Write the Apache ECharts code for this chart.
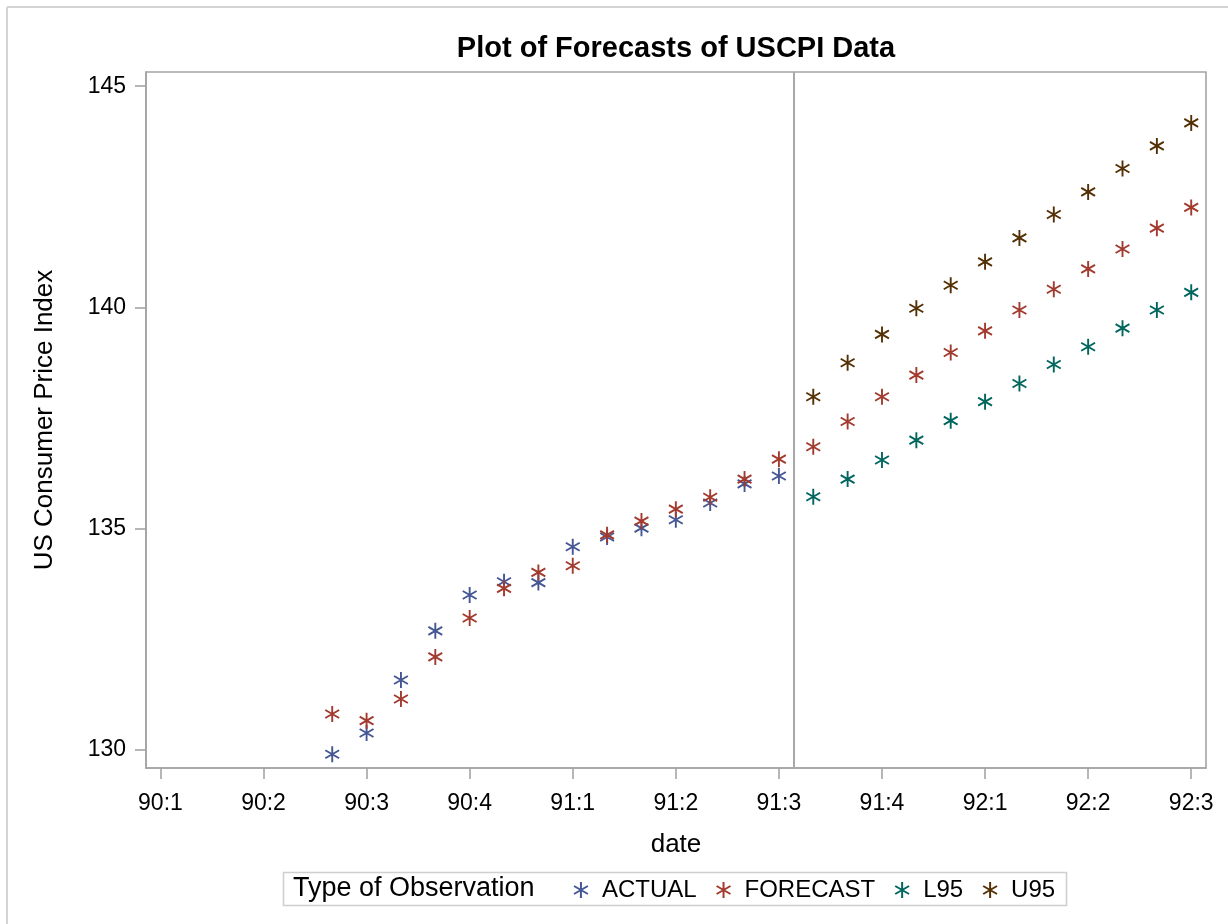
<!DOCTYPE html>
<html>
<head>
<meta charset="utf-8">
<title>Plot of Forecasts of USCPI Data</title>
<script src="https://cdn.jsdelivr.net/npm/echarts@6/dist/echarts.min.js"></script>
<style>
  html, body { margin: 0; padding: 0; background: #ffffff; }
  #chart { width: 1228px; height: 924px; }
</style>
</head>
<body>
<div id="chart"></div>
<script>
// Months counted from January 1990 (0) ; quarter ticks every 3 months
const xTickValues = [0, 3, 6, 9, 12, 15, 18, 21, 24, 27, 30];
const xTickLabels = ['90:1', '90:2', '90:3', '90:4', '91:1', '91:2', '91:3', '91:4', '92:1', '92:2', '92:3'];
const yTickValues = [130, 135, 140, 145];

// Observed CPI, June 1990 - July 1991
const actualMonths = [5, 6, 7, 8, 9, 10, 11, 12, 13, 14, 15, 16, 17, 18];
const actualValues = [129.90, 130.38, 131.58, 132.69, 133.50, 133.80, 133.78, 134.59, 134.81, 135.01, 135.20, 135.58, 136.01, 136.19];

// One-step and multi-step forecasts, June 1990 - July 1992
const forecastMonths = [5, 6, 7, 8, 9, 10, 11, 12, 13, 14, 15, 16, 17, 18, 19, 20, 21, 22, 23, 24, 25, 26, 27, 28, 29, 30];
const forecastValues = [130.81, 130.66, 131.15, 132.10, 132.98, 133.65, 134.01, 134.16, 134.86, 135.17, 135.44, 135.71, 136.12, 136.57,
                        136.85, 137.42, 137.98, 138.47, 138.98, 139.47, 139.94, 140.41, 140.87, 141.32, 141.79, 142.26];

// 95% confidence limits, August 1991 - July 1992
const limitMonths = [19, 20, 21, 22, 23, 24, 25, 26, 27, 28, 29, 30];
const l95Values = [135.72, 136.12, 136.55, 137.00, 137.44, 137.87, 138.28, 138.71, 139.11, 139.53, 139.94, 140.34];
const u95Values = [137.98, 138.75, 139.39, 139.98, 140.50, 141.03, 141.57, 142.10, 142.61, 143.14, 143.65, 144.17];

// Start of the forecast horizon (mid-July 1991)
const forecastStart = 18.42;

const FONT = '"Liberation Sans", Arial, Helvetica, sans-serif';
const STAR = 'path://M0,-10L0,10M-8.66,-5L8.66,5M-8.66,5L8.66,-5';
const AXIS_GRAY = '#a4a4a4';

function pairs(xs, ys) { return xs.map((x, i) => [x, ys[i]]); }

function starSeries(name, color, data, extra) {
  return Object.assign({
    name: name,
    type: 'scatter',
    data: data,
    symbol: STAR,
    symbolSize: 16,
    symbolKeepAspect: true,
    itemStyle: { color: color, borderColor: color, borderWidth: 1.9, opacity: 1 },
    emphasis: { disabled: true }
  }, extra || {});
}

const chart = echarts.init(document.getElementById('chart'), null, { renderer: 'canvas' });

chart.setOption({
  backgroundColor: '#ffffff',
  animation: false,
  title: {
    text: 'Plot of Forecasts of USCPI Data',
    left: 671,
    top: 29,
    textAlign: 'center',
    textStyle: { fontFamily: FONT, fontSize: 29, fontWeight: 'bold', color: '#000000' }
  },
  grid: {
    left: 146, right: 22, top: 72, bottom: 156,
    show: true, borderColor: AXIS_GRAY, borderWidth: 1.6, backgroundColor: 'transparent'
  },
  xAxis: {
    type: 'value',
    min: -0.42,
    max: 30.43,
    name: 'date',
    nameLocation: 'middle',
    nameGap: 64,
    nameTextStyle: { fontFamily: FONT, fontSize: 26, color: '#000000' },
    axisLine: { show: true, onZero: false, lineStyle: { color: AXIS_GRAY, width: 1.6 } },
    axisTick: { show: true, customValues: xTickValues, length: 11, lineStyle: { color: AXIS_GRAY, width: 1.6 } },
    axisLabel: {
      customValues: xTickValues,
      margin: 24,
      fontFamily: FONT, fontSize: 23, color: '#000000',
      formatter: v => xTickLabels[xTickValues.indexOf(Math.round(v))] || ''
    },
    splitLine: { show: false }
  },
  yAxis: {
    type: 'value',
    min: 129.59,
    max: 145.32,
    name: 'US Consumer Price Index',
    nameLocation: 'middle',
    nameRotate: 90,
    nameGap: 88,
    nameTextStyle: { fontFamily: FONT, fontSize: 26, color: '#000000' },
    axisLine: { show: true, onZero: false, lineStyle: { color: AXIS_GRAY, width: 1.6 } },
    axisTick: { show: true, customValues: yTickValues, length: 11, lineStyle: { color: AXIS_GRAY, width: 1.6 } },
    axisLabel: {
      customValues: yTickValues,
      margin: 20,
      fontFamily: FONT, fontSize: 23, color: '#000000'
    },
    splitLine: { show: false }
  },
  legend: {
    left: 568,
    top: 873,
    padding: 5,
    itemWidth: 32,
    itemHeight: 16,
    itemGap: 19,
    textStyle: { fontFamily: FONT, fontSize: 24, color: '#000000' },
    data: ['ACTUAL', 'FORECAST', 'L95', 'U95']
  },
  graphic: [
    { type: 'line', shape: { x1: 7, y1: 7, x2: 1228, y2: 7 }, style: { stroke: '#d4d4d4', lineWidth: 2 }, silent: true },
    { type: 'line', shape: { x1: 7, y1: 7, x2: 7, y2: 924 }, style: { stroke: '#d4d4d4', lineWidth: 2 }, silent: true },
    { type: 'rect', shape: { x: 283.5, y: 872.5, width: 783, height: 33 }, style: { fill: 'none', stroke: '#cfcfcf', lineWidth: 1.6 }, silent: true },
    { type: 'text', x: 293, y: 889, style: { text: 'Type of Observation', font: '27px ' + FONT, fill: '#000000', verticalAlign: 'middle' }, silent: true }
  ],
  series: [
    starSeries('ACTUAL', '#445694', pairs(actualMonths, actualValues), {
      markLine: {
        silent: true,
        symbol: 'none',
        label: { show: false },
        lineStyle: { color: '#a8a8a8', width: 2, type: 'solid' },
        data: [{ xAxis: forecastStart }]
      }
    }),
    starSeries('FORECAST', '#A23A2E', pairs(forecastMonths, forecastValues)),
    starSeries('L95', '#01665E', pairs(limitMonths, l95Values)),
    starSeries('U95', '#543005', pairs(limitMonths, u95Values))
  ]
});
</script>
</body>
</html>
